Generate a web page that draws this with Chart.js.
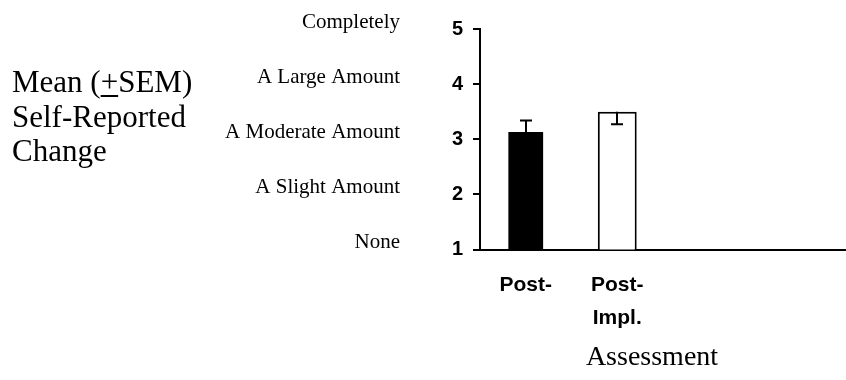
<!DOCTYPE html>
<html>
<head>
<meta charset="utf-8">
<script src="https://cdn.jsdelivr.net/npm/chart.js@4"></script>
<style>
  html, body { margin: 0; padding: 0; background: #fff; }
  #wrap { width: 846px; height: 380px; }
</style>
</head>
<body>
<div id="wrap"><canvas id="chart" width="846" height="380"></canvas></div>
<script>
// Assessment categories (two used, the rest of the axis left empty)
const categories = [['Post-'], ['Post-', 'Impl.'], '', ''];
// Mean self-reported change and its SEM
const meanValues = [3.13, 3.50];
const semValues = [0.21, 0.23];
const semDirection = [1, -1];
// Rating scale
const yTicks = [1, 2, 3, 4, 5];
const levelLabels = ['None', 'A Slight Amount', 'A Moderate Amount', 'A Large Amount', 'Completely'];
const yTitleLines = ['Mean (', '+', 'SEM)'];
const yTitleRest = ['Self-Reported', 'Change'];
const xTitle = 'Assessment';

const SERIF = "'Liberation Serif', 'Times New Roman', serif";
const SANS = "'Liberation Sans', Arial, sans-serif";

const annotations = {
  id: 'annotations',
  afterDatasetsDraw(chart) {
    const ctx = chart.ctx;
    const y = chart.scales.y;
    ctx.save();
    // SEM error bars
    ctx.strokeStyle = '#000';
    ctx.lineWidth = 2;
    meanValues.forEach((m, i) => {
      const bar = chart.getDatasetMeta(i).data[i];
      if (!bar) return;
      const x = Math.round(bar.x);
      const y0 = y.getPixelForValue(m);
      const y1 = y.getPixelForValue(m + semDirection[i] * semValues[i]);
      ctx.beginPath();
      ctx.moveTo(x, y0);
      ctx.lineTo(x, y1);
      ctx.moveTo(x - 6, y1);
      ctx.lineTo(x + 6, y1);
      ctx.stroke();
    });
    ctx.restore();
  },
  afterDraw(chart) {
    const ctx = chart.ctx;
    const y = chart.scales.y;
    ctx.save();
    ctx.fillStyle = '#000';
    // verbal anchors of the rating scale
    ctx.font = '21px ' + SERIF;
    ctx.textAlign = 'right';
    ctx.textBaseline = 'middle';
    yTicks.forEach((v, i) => {
      ctx.fillText(levelLabels[i], 400, y.getPixelForValue(v) - 7);
    });
    // y axis title, with an underlined plus sign
    ctx.font = '31px ' + SERIF;
    ctx.textAlign = 'left';
    ctx.textBaseline = 'alphabetic';
    let x = 12;
    const base = 92;
    yTitleLines.forEach((part, i) => {
      ctx.fillText(part, x, base);
      const w = ctx.measureText(part).width;
      if (i === 1) {
        ctx.fillRect(x, base + 3, w, 2);
      }
      x += w;
    });
    ctx.fillText(yTitleRest[0], 12, 127);
    ctx.fillText(yTitleRest[1], 12, 161);
    // x axis title
    ctx.font = '28px ' + SERIF;
    ctx.textAlign = 'center';
    ctx.fillText(xTitle, 652, 365);
    ctx.restore();
  }
};

new Chart(document.getElementById('chart'), {
  type: 'bar',
  data: {
    labels: categories,
    datasets: [
      {
        data: [meanValues[0], null, null, null],
        backgroundColor: '#000',
        borderColor: '#000',
        borderWidth: 0,
        barPercentage: 0.38,
        categoryPercentage: 1,
        grouped: false
      },
      {
        data: [null, meanValues[1], null, null],
        backgroundColor: '#fff',
        borderColor: '#000',
        borderWidth: 2,
        barPercentage: 0.425,
        categoryPercentage: 1,
        grouped: false
      }
    ]
  },
  options: {
    responsive: false,
    animation: false,
    devicePixelRatio: 1,
    layout: { padding: { top: 29, right: 0, bottom: 0, left: 0 } },
    plugins: { legend: { display: false }, tooltip: { enabled: false } },
    scales: {
      x: {
        type: 'category',
        grid: { display: false },
        border: { display: true, color: '#000', width: 2 },
        ticks: {
          color: '#000',
          autoSkip: false,
          maxRotation: 0,
          padding: 11,
          font: { family: SANS, weight: 'bold', size: 21, lineHeight: 1.57 }
        },
        afterFit(scale) { scale.height = 130.5; }
      },
      y: {
        min: 1,
        max: 5,
        grid: { drawOnChartArea: false, drawTicks: true, tickLength: 7, color: '#000', lineWidth: 2 },
        border: { display: true, color: '#000', width: 2 },
        ticks: {
          stepSize: 1,
          color: '#000',
          padding: 10,
          font: { family: SANS, weight: 'bold', size: 20 }
        },
        afterFit(scale) { scale.width = 480; }
      }
    }
  },
  plugins: [annotations]
});
</script>
</body>
</html>
